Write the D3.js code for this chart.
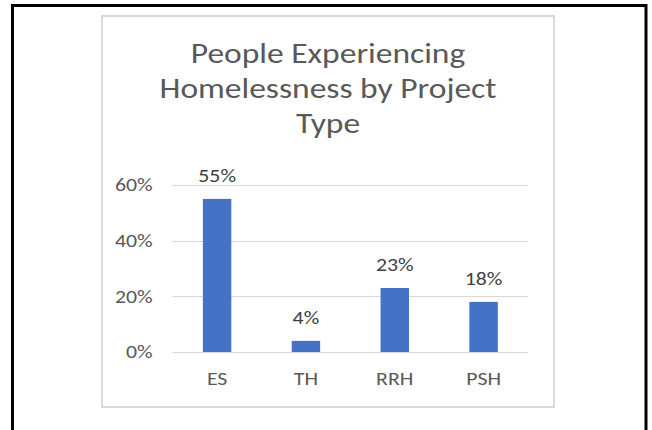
<!DOCTYPE html>
<html><head><meta charset="utf-8">
<script src="https://cdn.jsdelivr.net/npm/d3@7"></script>
<style>html,body{margin:0;padding:0;background:#fff;}svg{display:block;}</style>
</head><body>
<script>
const categories = ["ES", "TH", "RRH", "PSH"];
const values = [0.55, 0.04, 0.23, 0.18];
const yTicks = [0, 0.2, 0.4, 0.6];
const titleLines = ["People Experiencing", "Homelessness by Project", "Type"];

const W = 652, H = 430;
const FONT = "Carlito, Calibri, Lato, sans-serif";
const SX = 1.18; // horizontal stretch of the reference rendering
const svg = d3.select("body").append("svg").attr("width", W).attr("height", H);

// outer black frame (no bottom edge)
svg.append("path").attr("d", `M12.5,${H} L12.5,5.5 L646,5.5 L646,${H}`)
  .attr("fill", "none").attr("stroke", "#000").attr("stroke-width", 3);

// chart area border
svg.append("rect").attr("x", 102).attr("y", 16).attr("width", 452).attr("height", 391)
  .attr("fill", "#fff").attr("stroke", "#d9d9d9").attr("stroke-width", 2);

// title
svg.append("g").attr("transform", `translate(328,0) scale(${SX},1)`)
  .append("text").attr("text-anchor", "middle").attr("fill", "#595959")
  .style("font-family", FONT).style("font-size", "28.4px")
  .selectAll("tspan").data(titleLines).join("tspan")
  .attr("x", 0).attr("y", (d, i) => 63.5 + i * 35).text(d => d);

const x = d3.scaleBand().domain(categories).range([172.7, 528]).paddingInner(0.68).paddingOuter(0.34);
const y = d3.scaleLinear().domain([0, 0.6]).range([352, 185]);

// gridlines
svg.append("g").selectAll("line").data(yTicks).join("line")
  .attr("x1", 172.7).attr("x2", 528)
  .attr("y1", d => Math.round(y(d)) + 0.5).attr("y2", d => Math.round(y(d)) + 0.5)
  .attr("stroke", "#d9d9d9").attr("stroke-width", 1);

// y axis labels
const yAxis = svg.append("g").attr("transform", "translate(172.7,0)")
  .call(d3.axisLeft(y).tickValues(yTicks).tickFormat(d3.format(".0%")).tickSize(0).tickPadding(20));
yAxis.select(".domain").remove();
yAxis.selectAll("text").attr("fill", "#595959").style("font-family", FONT).style("font-size", "18.5px")
  .attr("x", -20 / SX).attr("transform", `scale(${SX},1)`);

// x axis labels
const xAxis = svg.append("g").attr("transform", "translate(0,352)")
  .call(d3.axisBottom(x).tickSize(0).tickPadding(0));
xAxis.select(".domain").remove();
xAxis.selectAll("text").attr("fill", "#595959").style("font-family", FONT).style("font-size", "18.5px")
  .attr("dy", null).attr("y", 33).attr("transform", `scale(${SX},1)`);

// bars
svg.append("g").selectAll("rect").data(values).join("rect")
  .attr("x", (d, i) => x(categories[i])).attr("width", x.bandwidth())
  .attr("y", d => y(d)).attr("height", d => y(0) - y(d))
  .attr("fill", "#4472c4");

// data labels
svg.append("g").selectAll("text").data(values).join("text")
  .attr("transform", (d, i) => `translate(${x(categories[i]) + x.bandwidth() / 2},${y(d) - 17}) scale(${SX},1)`)
  .attr("text-anchor", "middle").attr("fill", "#404040")
  .style("font-family", FONT).style("font-size", "18.5px")
  .text(d => d3.format(".0%")(d));
</script>
</body></html>
